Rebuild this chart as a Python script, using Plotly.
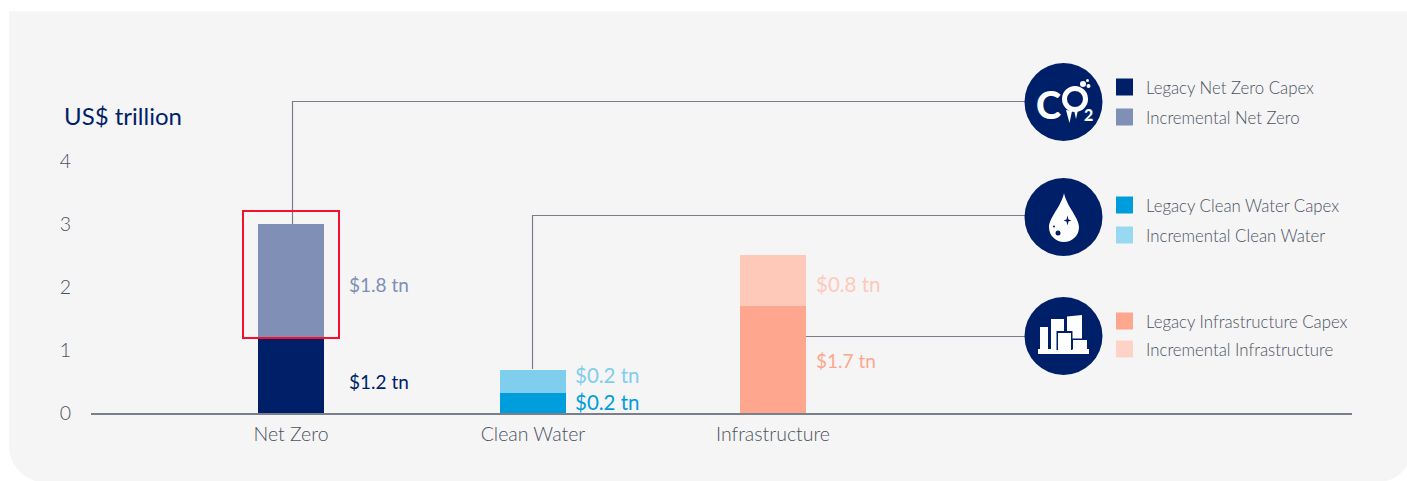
import plotly.graph_objects as go

# ---------- data ----------
categories = ["Net Zero", "Clean Water", "Infrastructure"]
x_positions = [0, 1.004, 2]
legacy_values = [1.2, 0.32, 1.7]
incremental_values = [1.8, 0.37, 0.81]
legacy_names = ["Legacy Net Zero Capex", "Legacy Clean Water Capex", "Legacy Infrastructure Capex"]
incremental_names = ["Incremental Net Zero", "Incremental Clean Water", "Incremental Infrastructure"]
legacy_colors = ["#001F69", "#009DDC", "#FFA68F"]
incremental_colors = ["#808FB5", "#80CEEE", "#FFC9BA"]
legacy_legend_colors = ["#001F69", "#009DDC", "#FFA68F"]
incremental_legend_colors = ["#808FB5", "#99D8F1", "#FFD2C7"]
legacy_labels = ["$1.2 tn", "$0.2 tn", "$1.7 tn"]
incremental_labels = ["$1.8 tn", "$0.2 tn", "$0.8 tn"]
legacy_label_y = [0.5, 0.17, 0.84]
incremental_label_y = [2.04, 0.6, 2.04]
legacy_label_sizes = [19, 20.5, 19]
incremental_label_sizes = [19, 20.5, 20.5]
y_ticks = [0, 1, 2, 3, 4]

W, H = 1407, 481
L, R, T, B = 91, 1352, 100, 413
FONT = "Lato"
NAVY = "#001F69"
GREY = "#4C5262"
LINE = "#7A7F8C"
PANEL = "#F5F5F5"


def px(x):
    return (x - L) / (R - L)


def py(y):
    return (B - y) / (B - T)


def path(cmds):
    out = []
    for c in cmds:
        out.append(c if isinstance(c, str) else f"{px(c[0]):.6f},{py(c[1]):.6f}")
    return " ".join(out)


shapes = []


def pshape(kind, x0, y0, x1, y1, **kw):
    shapes.append(dict(type=kind, xref="paper", yref="paper", x0=px(x0), x1=px(x1),
                       y0=py(y0), y1=py(y1), **kw))


def ppath(cmds, **kw):
    shapes.append(dict(type="path", xref="paper", yref="paper", path=path(cmds), **kw))


# panel: square top, large rounded bottom corners running past the page edge
rad, k = 37, 0.5523 * 37
left, top, right, bottom = 9, 11.5, 1413, 482.5
ppath(["M", (left, top), "L", (right, top), "L", (right, bottom - rad),
       "C", (right, bottom - rad + k), (right - rad + k, bottom), (right - rad, bottom),
       "L", (left + rad, bottom),
       "C", (left + rad - k, bottom), (left, bottom - rad + k), (left, bottom - rad), "Z"],
      fillcolor=PANEL, line_width=0, layer="below")

fig = go.Figure()
for i, cat in enumerate(categories):
    fig.add_bar(x=[x_positions[i]], y=[legacy_values[i]], name=legacy_names[i],
                marker=dict(color=legacy_colors[i], line_width=0), width=0.274)
    fig.add_bar(x=[x_positions[i]], y=[incremental_values[i]], name=incremental_names[i],
                marker=dict(color=incremental_colors[i], line_width=0), width=0.274)

# connectors
line = dict(color=LINE, width=1.2)
for pts in ([(292.5, 224), (292.5, 101.5), (1030, 101.5)],
            [(532.5, 369), (532.5, 215.5), (1030, 215.5)],
            [(806, 336.5), (1030, 336.5)]):
    cmds = []
    for i, p in enumerate(pts):
        cmds += ["M" if i == 0 else "L", p]
    ppath(cmds, line=line, layer="below")

# highlight rectangle
pshape("rect", 243, 211, 339, 338, line=dict(color="#F5102D", width=2))

# icon discs
for cx, cy in [(1063.5, 102), (1063.5, 217), (1063.5, 336)]:
    pshape("circle", cx - 39, cy - 39, cx + 39, cy + 39, fillcolor=NAVY, line_width=0)

# droplet
cx = 1064
ppath(["M", (cx, 193), "C", (cx - 2, 205), (cx - 15, 218), (cx - 15, 227),
       "C", (cx - 15, 236), (cx - 8, 242), (cx, 242),
       "C", (cx + 8, 242), (cx + 15, 236), (cx + 15, 227),
       "C", (cx + 15, 218), (cx + 2, 205), (cx, 193), "Z"], fillcolor="white", line_width=0)
pshape("circle", 1055.5, 230.5, 1060.5, 235.5, fillcolor=NAVY, line_width=0)
pshape("circle", 1053, 225.5, 1055, 227.5, fillcolor=NAVY, line_width=0)
sx, sy = 1067.5, 220.5
ppath(["M", (sx, sy - 5), "L", (sx + 1, sy - 1), "L", (sx + 4, sy), "L", (sx + 1, sy + 1), "L", (sx, sy + 5),
       "L", (sx - 1, sy + 1), "L", (sx - 4, sy), "L", (sx - 1, sy - 1), "Z"], fillcolor=NAVY, line_width=0)

# city
for x0, y0, x1, y1 in [(1038, 349, 1089, 354), (1040, 327, 1048, 350), (1051, 319, 1064, 350),
                        (1073, 340, 1087, 350)]:
    pshape("rect", x0, y0, x1, y1, fillcolor="white", line_width=0)
ppath(["M", (1067, 316.5), "L", (1082, 315), "L", (1082, 338.5), "L", (1067, 338.5), "Z"],
      fillcolor="white", line_width=0)
pshape("rect", 1056.5, 331, 1072.5, 350, fillcolor=NAVY, line_width=0)
pshape("rect", 1058, 333, 1071, 350, fillcolor="white", line_width=0)

# CO2 ring, bubbles and drips
for bx, by, br in [(1083, 84, 3), (1087.5, 80.5, 1.5), (1088.5, 86, 2)]:
    pshape("circle", bx - br, by - br, bx + br, by + br, fillcolor="white", line_width=0)
pshape("circle", 1064.5, 88.5, 1085.5, 109.5, line=dict(color="white", width=5))
ppath(["M", (1066, 110), "L", (1072, 111), "L", (1069.5, 123), "Z"], fillcolor="white", line_width=0)
ppath(["M", (1074, 110), "L", (1078, 110), "L", (1076, 119), "Z"], fillcolor="white", line_width=0)

annotations = []


def text(x, y, s, size, color, weight=400):
    annotations.append(dict(x=px(x), y=py(y), xref="paper", yref="paper", text=s, showarrow=False,
                            xanchor="left", yanchor="middle", align="left",
                            font=dict(family=FONT, size=size, color=color, weight=weight)))


annotations.append(dict(x=px(1048), y=py(103.5), xref="paper", yref="paper", text="C", showarrow=False,
                        xanchor="center", yanchor="middle",
                        font=dict(family=FONT, size=38, color="white", weight=900)))
annotations.append(dict(x=px(1088), y=py(115), xref="paper", yref="paper", text="2", showarrow=False,
                        xanchor="center", yanchor="middle",
                        font=dict(family=FONT, size=16, color="white", weight=900)))

# legends
legacy_rows = [87, 205, 321]
incremental_rows = [117, 235, 349]
for i in range(3):
    for ly, nm, col in ((legacy_rows[i], legacy_names[i], legacy_legend_colors[i]),
                        (incremental_rows[i], incremental_names[i], incremental_legend_colors[i])):
        pshape("rect", 1116, ly - 8.5, 1133, ly + 8.5, fillcolor=col, line_width=0)
        text(1144, ly, nm, 16.8, GREY, 300)

# value labels
shifts = [23, 7, 8]
for i in range(3):
    for s, yv, col, sz in ((legacy_labels[i], legacy_label_y[i], legacy_colors[i], legacy_label_sizes[i]),
                           (incremental_labels[i], incremental_label_y[i], incremental_colors[i],
                            incremental_label_sizes[i])):
        annotations.append(dict(x=x_positions[i] + 0.137, y=yv, xref="x", yref="y", text=s, showarrow=False,
                                xanchor="left", yanchor="middle", xshift=shifts[i],
                                font=dict(family=FONT, size=sz, color=col)))

text(62, 115.5, "US$ trillion", 24, NAVY)

fig.update_layout(
    width=W, height=H, autosize=False,
    barmode="stack", showlegend=False,
    paper_bgcolor="white", plot_bgcolor="rgba(0,0,0,0)",
    margin=dict(l=L, r=W - R, t=T, b=H - B, pad=0),
    shapes=shapes,
    annotations=annotations,
    font=dict(family=FONT, color=GREY),
    xaxis=dict(range=[(L - 291) / 241, (R - 291) / 241], tickvals=x_positions, ticktext=categories,
               showgrid=False, zeroline=False, showline=True, linecolor=LINE, linewidth=2,
               ticks="", tickfont=dict(family=FONT, size=19.5, color=GREY, weight=300), ticklabelstandoff=3),
    yaxis=dict(range=[0, (B - T) / 63], tickvals=y_ticks, showgrid=False, zeroline=False,
               showline=False, ticks="", tickfont=dict(family=FONT, size=19.5, color=GREY, weight=300),
               ticklabelstandoff=19),
)
fig.write_html("out.html", config=dict(displayModeBar=False),
               post_script="document.body.style.margin='0';document.body.style.overflow='hidden';")
